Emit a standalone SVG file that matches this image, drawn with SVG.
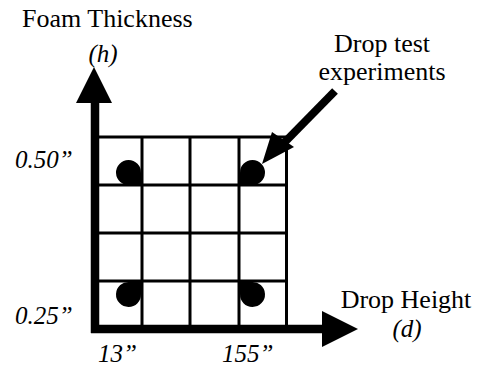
<svg xmlns="http://www.w3.org/2000/svg" width="478" height="367" viewBox="0 0 478 367">
<style>
.t{font-family:"Liberation Serif","Times New Roman",serif;font-size:26px;fill:#000}
.i{font-style:italic;font-size:25px}
.g{stroke:#000;stroke-width:3;fill:none}
.ax{stroke:#000;stroke-width:8.5;fill:none}
</style>
<rect width="478" height="367" fill="#fff"/>
<g id="grid">
<line class="g" x1="95" y1="137" x2="287" y2="137"/>
<line class="g" x1="95" y1="185" x2="287" y2="185"/>
<line class="g" x1="95" y1="233" x2="287" y2="233"/>
<line class="g" x1="95" y1="281" x2="287" y2="281"/>
<line class="g" x1="142" y1="137" x2="142" y2="329"/>
<line class="g" x1="190" y1="137" x2="190" y2="329"/>
<line class="g" x1="239" y1="137" x2="239" y2="329"/>
<line class="g" x1="286.5" y1="137" x2="286.5" y2="329"/>
</g>
<g id="dots" fill="#000">
<path d="M141 185 H129.5 A12.5 12.5 0 1 1 141 173 Z"/>
<path d="M240 185 V173 A12.5 12.5 0 1 1 251.5 185 Z"/>
<path d="M141 282 V294 A12.5 12.5 0 1 1 129.5 282 Z"/>
<path d="M240 282 H251.5 A12.5 12.5 0 1 1 240 294 Z"/>
</g>
<g id="axes">
<line class="ax" x1="95" y1="333" x2="95" y2="100"/>
<polygon points="94,67 112,103 76,103" fill="#000"/>
<line class="ax" x1="91" y1="329" x2="324" y2="329"/>
<polygon points="358,329 322,311 322,347" fill="#000"/>
</g>
<g id="connectors">
<line x1="335" y1="91" x2="281" y2="146" stroke="#000" stroke-width="8"/>
<polygon points="262,164 272,132 294,147" fill="#000"/>
</g>
<g id="labels">
<text class="t" x="22" y="27">Foam Thickness</text>
<text class="t i" x="103" y="62" text-anchor="middle">(h)</text>
<text class="t" x="382" y="52" text-anchor="middle">Drop test</text>
<text class="t" x="382" y="80" text-anchor="middle">experiments</text>
<text class="t" x="406" y="308" text-anchor="middle">Drop Height</text>
<text class="t i" x="407" y="337" text-anchor="middle">(d)</text>
<text class="t i" x="15" y="168">0.50”</text>
<text class="t i" x="15" y="324">0.25”</text>
<text class="t i" x="98" y="362">13”</text>
<text class="t i" x="222" y="362">155”</text>
</g>
</svg>
